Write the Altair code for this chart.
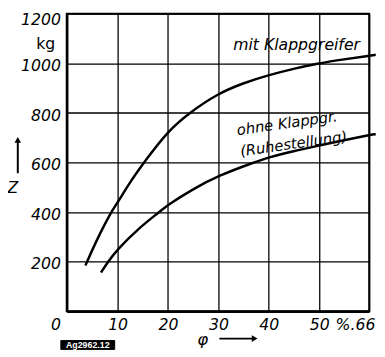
import altair as alt
import pandas as pd

# Curve "mit Klappgreifer"
phi_mit = [3.7, 6.0, 8.8, 10.0, 12.7, 15.5, 20.0, 24.3, 30.0, 35.0, 40.0, 45.0, 50.0, 55.0, 60.0, 61.3]
z_mit = [184, 290, 400, 435, 525, 605, 725, 800, 878, 920, 952, 978, 1000, 1016, 1030, 1034]
# Curve "ohne Klappgr. (Ruhestellung)"
phi_ohne = [6.8, 8.2, 10.0, 14.0, 18.5, 20.0, 25.0, 30.0, 37.4, 40.0, 45.0, 50.0, 55.0, 60.0, 61.3]
z_ohne = [156, 200, 248, 330, 402, 428, 492, 546, 602, 620, 646, 668, 690, 710, 714]

x_ticks = [0, 10, 20, 30, 40, 50, 60]
x_tick_labels = ["0", "10", "20", "30", "40", "50", "%.66"]
y_ticks = [200, 400, 600, 800, 1000, 1200]
y_tick_labels = ["200", "400", "600", "800", "1000", "1200"]

curve_names = ["mit", "ohne"]

rows = []
for name, xs, ys in [(curve_names[0], phi_mit, z_mit), (curve_names[1], phi_ohne, z_ohne)]:
    for i, (a, b) in enumerate(zip(xs, ys)):
        rows.append({"curve": name, "phi": a, "Z": b, "order": i})
df = pd.DataFrame(rows)

xlab = pd.DataFrame({"v": x_ticks, "t": x_tick_labels})
ylab = pd.DataFrame({"v": y_ticks, "t": y_tick_labels})

FONT = "DejaVu Sans"

xscale = alt.Scale(domain=[0, 60], nice=False)
yscale = alt.Scale(domain=[0, 1200], nice=False)

x_axis = alt.Axis(
    values=x_ticks, title=None, ticks=False, labels=False, grid=True, gridColor="black",
    gridWidth=1.3, gridOpacity=1, domainColor="black", domainWidth=2.5,
)
y_axis = alt.Axis(
    values=y_ticks, labels=False, title="kg", titleAngle=0, titleX=-22, titleY=31,
    titleAlign="center", titleBaseline="middle", titleFont=FONT, titleFontSize=16,
    titleFontWeight="normal", titleColor="black", ticks=False, grid=True, gridColor="black",
    gridWidth=1.3, gridOpacity=1, domainColor="black", domainWidth=2.5,
)

curves = alt.Chart(df).mark_line(color="black", strokeWidth=2.5, clip=False,
                                 interpolate="basis").encode(
    x=alt.X("phi:Q", scale=xscale, axis=x_axis),
    y=alt.Y("Z:Q", scale=yscale, axis=y_axis),
    detail="curve:N",
    order="order:Q",
)

def ylabel_layer(sub, dy):
    return alt.Chart(sub).mark_text(
        font=FONT, fontSize=16, fontStyle="italic", align="right", baseline="middle",
        dy=dy, color="black",
    ).encode(x=alt.value(-6), y=alt.Y("v:Q", scale=yscale), text="t:N")

ylabels_main = ylabel_layer(ylab.iloc[:-1], 3)
ylabels_top = ylabel_layer(ylab.iloc[-1:], 7)

def xlabel_layer(sub, dx):
    return alt.Chart(sub).mark_text(
        font=FONT, fontSize=16, fontStyle="italic", align="center", baseline="middle",
        dx=dx, color="black",
    ).encode(x=alt.X("v:Q", scale=xscale), y=alt.value(318), text="t:N")

xlabels_mid = xlabel_layer(xlab.iloc[1:-1], 1)
xlabels_first = xlabel_layer(xlab.iloc[:1], -11)
xlabels_last = xlabel_layer(xlab.iloc[-1:], -14)

one = alt.Data(values=[{"a": 1}])

def txt(text, x, y, size=15, angle=0, style="italic", color="black", weight="normal", font=FONT):
    return alt.Chart(one).mark_text(
        text=text, font=font, fontSize=size, fontStyle=style, angle=angle,
        color=color, fontWeight=weight, align="center", baseline="middle",
    ).encode(x=x, y=y)

ann_mit = txt("mit Klappgreifer", alt.datum(45.6), alt.datum(1074), size=16)
ann_ohne1 = txt("ohne Klappgr.", alt.datum(43.7), alt.datum(758), size=15, angle=352)
ann_ohne2 = txt("(Ruhestellung)", alt.datum(45.0), alt.datum(675), size=15, angle=352)

z_label = txt("Z", alt.value(-55), alt.value(178), size=16)
z_arrow = alt.Chart(one).mark_rule(color="black", strokeWidth=2).encode(
    x=alt.value(-50), y=alt.value(130), y2=alt.value(163))
z_head = alt.Chart(one).mark_point(shape="triangle-up", filled=True, color="black",
                                   size=45, opacity=1).encode(x=alt.value(-50), y=alt.value(129))

phi_label = txt("φ", alt.value(139), alt.value(334), size=17)
phi_arrow = alt.Chart(one).mark_rule(color="black", strokeWidth=2).encode(
    x=alt.value(156), x2=alt.value(190), y=alt.value(332))
phi_head = alt.Chart(one).mark_point(shape="triangle-right", filled=True, color="black",
                                     size=45, opacity=1).encode(x=alt.value(192), y=alt.value(332))

stamp_box = alt.Chart(one).mark_rect(fill="black", stroke="black").encode(
    x=alt.value(-6), x2=alt.value(49), y=alt.value(334), y2=alt.value(343))
stamp_txt = txt("Ag2962.12", alt.value(21.5), alt.value(338.5), size=9, style="normal",
                color="white", weight="bold", font="Liberation Sans")

chart = alt.layer(
    curves, ylabels_main, ylabels_top, xlabels_mid, xlabels_first, xlabels_last,
    ann_mit, ann_ohne1, ann_ohne2, z_label, z_arrow, z_head,
    phi_label, phi_arrow, phi_head, stamp_box, stamp_txt,
).properties(
    width=309, height=304, autosize="none",
    padding={"left": 60, "top": 2, "right": 8, "bottom": 43},
    background="white",
).configure_view(stroke="black", strokeWidth=2)

chart.save("out.html", embed_options={"renderer": "svg", "actions": False})
